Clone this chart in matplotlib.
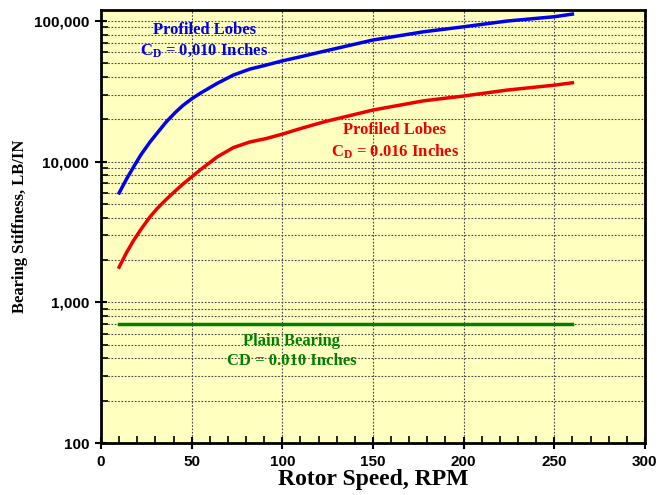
import matplotlib.pyplot as plt
import numpy as np
from matplotlib.ticker import FuncFormatter, LogLocator, MultipleLocator

plt.rcParams['mathtext.fontset'] = 'custom'
plt.rcParams['mathtext.rm'] = 'Liberation Serif:bold'
plt.rcParams['mathtext.it'] = 'Liberation Serif:bold'
plt.rcParams['mathtext.bf'] = 'Liberation Serif:bold'

# rotor speed (RPM) and bearing stiffness (LB/IN)
speed_blue = [10, 14, 18, 22, 27, 31, 36, 41, 45, 50, 55, 64, 73, 82, 91,
              100, 110, 123, 150, 178, 200, 224, 250, 260]
stiff_blue = [6000, 7500, 9200, 11200, 13800, 16000, 19200, 22400, 25000,
              28000, 30800, 36000, 41300, 45500, 48600, 52100, 55700, 61000,
              73300, 83900, 91000, 100000, 107300, 112000]

speed_red = [10, 14, 18, 22, 27, 31, 36, 41, 45, 50, 55, 64, 73, 82, 91,
             100, 110, 123, 150, 178, 200, 224, 250, 260]
stiff_red = [1780, 2250, 2760, 3300, 4050, 4650, 5400, 6200, 6900, 7800,
             8800, 10800, 12600, 13800, 14600, 15700, 17200, 19200, 23300,
             27100, 29300, 32300, 35000, 36400]

speed_green = [10, 260]
stiff_green = [705, 705]

serif = ['Liberation Serif', 'DejaVu Serif']
sans = ['Liberation Sans', 'DejaVu Sans']

fig = plt.figure(figsize=(6.69, 4.95), dpi=100)
ax = fig.add_axes([0.151, 0.105, 0.813, 0.875])
ax.set_facecolor('#ffffc0')

ax.plot(speed_blue, stiff_blue, color='#0000ee', lw=2.5, zorder=3)
ax.plot(speed_red, stiff_red, color='#ee0000', lw=2.5, zorder=3)
ax.plot(speed_green, stiff_green, color='#008000', lw=2.5, zorder=3)

ax.set_yscale('log')
ax.set_xlim(0, 300)
ax.set_ylim(100, 120000)

ax.xaxis.set_major_locator(MultipleLocator(50))
ax.xaxis.set_minor_locator(MultipleLocator(10))
ax.yaxis.set_major_locator(LogLocator(base=10))
ax.yaxis.set_minor_locator(LogLocator(base=10, subs=np.arange(2, 10)))
ax.yaxis.set_minor_formatter(FuncFormatter(lambda v, p: ''))
ax.yaxis.set_major_formatter(FuncFormatter(lambda v, p: f'{int(round(v)):,}'))

ax.grid(True, which='major', axis='x', color='#444444', ls=(0, (1.5, 1.5)), lw=0.8)
ax.grid(True, which='both', axis='y', color='#444444', ls=(0, (1.5, 1.5)), lw=0.8)

ax.tick_params(which='major', direction='inout', length=9, width=1.5, pad=4)
ax.tick_params(which='minor', direction='in', length=5, width=1.2)
for lab in ax.get_xticklabels() + ax.get_yticklabels():
    lab.set_family(sans)
    lab.set_fontweight('bold')
    lab.set_fontsize(11)

for s in ax.spines.values():
    s.set_linewidth(2)

ax.set_xlabel('Rotor Speed, RPM', family=serif, fontweight='bold', fontsize=17, labelpad=0)
ax.set_ylabel('Bearing Stiffness, LB/IN', family=serif, fontweight='bold', fontsize=12, labelpad=4)

txt = dict(family=serif, fontweight='bold', fontsize=12, ha='center', va='center')
ax.text(57, 86000, 'Profiled Lobes', color='#0000ee', **txt)
ax.text(57, 62000, r'C$_\mathregular{D}$ = 0,010 Inches', color='#0000ee', **txt)
ax.text(162, 16800, 'Profiled Lobes', color='#ee0000', **txt)
ax.text(162, 11800, r'C$_\mathregular{D}$ = 0.016 Inches', color='#ee0000', **txt)
ax.text(105, 527, 'Plain Bearing', color='#008000', **txt)
ax.text(105, 380, 'CD = 0.010 Inches', color='#008000', **txt)

fig.savefig('out.png', dpi=100)
